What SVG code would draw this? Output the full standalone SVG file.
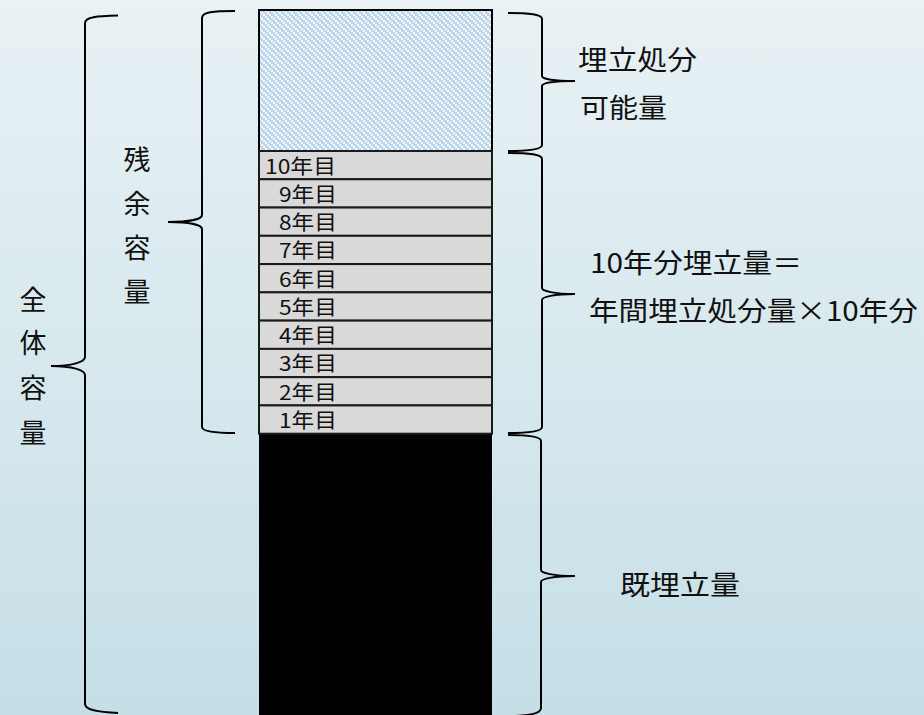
<svg xmlns="http://www.w3.org/2000/svg" width="924" height="715" viewBox="0 0 924 715">
<defs>
<linearGradient id="bg" x1="0" y1="0" x2="0" y2="1">
<stop offset="0" stop-color="#e9f2f5"/>
<stop offset="1" stop-color="#c5dfe6"/>
</linearGradient>
<pattern id="hatch" patternUnits="userSpaceOnUse" x="259" y="10" width="6" height="6">
<rect width="6" height="6" fill="#bdd7ee"/>
<rect x="0" y="0" width="2" height="2" fill="#ffffff"/>
<rect x="2" y="2" width="2" height="2" fill="#ffffff"/>
<rect x="4" y="4" width="2" height="2" fill="#ffffff"/>
</pattern>
<style>
.brace{fill:none;stroke:#000;stroke-width:2}
.row{fill:#d9d9d9;stroke:#1a1a1a;stroke-width:2}
.rt{font-family:"Noto Sans CJK JP","Noto Sans",sans-serif;font-size:20px;fill:#111}
.lbl{font-family:"Noto Sans CJK JP","Noto Sans",sans-serif;font-size:27px;fill:#111}
.v{font-family:"Noto Sans CJK JP","Noto Sans",sans-serif;font-size:27px;fill:#111;text-anchor:middle}
</style>
</defs>
<rect width="924" height="715" fill="url(#bg)"/>

<g id="column">
<rect x="259" y="10" width="233" height="141" fill="url(#hatch)" stroke="#000" stroke-width="2" shape-rendering="crispEdges"/>
<rect x="259" y="433.7" width="233" height="290" fill="#000"/>
</g>

<g id="rows">
<g id="row10"><rect class="row" x="259" y="151" width="233" height="28.27"/><text class="rt" x="265" y="173.5" textLength="71" lengthAdjust="spacingAndGlyphs">10年目</text></g>
<g id="row9"><rect class="row" x="259" y="179.27" width="233" height="28.27"/><text class="rt" x="279" y="201.8" textLength="58" lengthAdjust="spacingAndGlyphs">9年目</text></g>
<g id="row8"><rect class="row" x="259" y="207.54" width="233" height="28.27"/><text class="rt" x="279" y="230" textLength="58" lengthAdjust="spacingAndGlyphs">8年目</text></g>
<g id="row7"><rect class="row" x="259" y="235.81" width="233" height="28.27"/><text class="rt" x="279" y="258.3" textLength="58" lengthAdjust="spacingAndGlyphs">7年目</text></g>
<g id="row6"><rect class="row" x="259" y="264.08" width="233" height="28.27"/><text class="rt" x="279" y="286.6" textLength="58" lengthAdjust="spacingAndGlyphs">6年目</text></g>
<g id="row5"><rect class="row" x="259" y="292.35" width="233" height="28.27"/><text class="rt" x="279" y="314.9" textLength="58" lengthAdjust="spacingAndGlyphs">5年目</text></g>
<g id="row4"><rect class="row" x="259" y="320.62" width="233" height="28.27"/><text class="rt" x="279" y="343.1" textLength="58" lengthAdjust="spacingAndGlyphs">4年目</text></g>
<g id="row3"><rect class="row" x="259" y="348.89" width="233" height="28.27"/><text class="rt" x="279" y="371.4" textLength="58" lengthAdjust="spacingAndGlyphs">3年目</text></g>
<g id="row2"><rect class="row" x="259" y="377.16" width="233" height="28.27"/><text class="rt" x="279" y="399.7" textLength="58" lengthAdjust="spacingAndGlyphs">2年目</text></g>
<g id="row1"><rect class="row" x="259" y="405.43" width="233" height="28.27"/><text class="rt" x="279" y="427.9" textLength="58" lengthAdjust="spacingAndGlyphs">1年目</text></g>
</g>

<g id="connectors">
<path class="brace" d="M118,15.5 C97,16 85,17 85,23 L85,357 C85,362 72,366 51,366 C72,366 85,370 85,375 L85,704 C85,710 97,712 118,713"/>
<path class="brace" d="M235,11 C213,11 202,12 202,18 L202,215 C202,219 190,222 168,222 C190,222 202,225 202,229 L202,427 C202,431 213,433 235,433"/>
<path class="brace" d="M508,13 C530,13 542,14 542,19 L542,76 C542,79 554,81 575,81 C554,81 542,83 542,86 L542,145 C542,149 530,151 508,151"/>
<path class="brace" d="M508,153 C530,153 542,154 542,159 L542,288 C542,291 554,294 575,294 C554,294 542,297 542,300 L542,427 C542,431 530,433 508,433"/>
<path class="brace" d="M508,435 C530,435 541,437 541,441 L541,570 C541,573 553,576 575,576 C553,576 541,579 541,582 L541,708 C541,713 530,716 508,716"/>
</g>

<g id="label-total">
<text class="v" x="33" y="310">全</text>
<text class="v" x="33" y="353">体</text>
<text class="v" x="33" y="398">容</text>
<text class="v" x="33" y="443">量</text>
</g>
<g id="label-remaining">
<text class="v" x="137" y="170">残</text>
<text class="v" x="137" y="214">余</text>
<text class="v" x="137" y="258">容</text>
<text class="v" x="137" y="302">量</text>
</g>
<g id="label-capacity">
<text class="lbl" x="578" y="70" textLength="119" lengthAdjust="spacingAndGlyphs">埋立処分</text>
<text class="lbl" x="580" y="118" textLength="87" lengthAdjust="spacingAndGlyphs">可能量</text>
</g>
<g id="label-10years">
<text class="lbl" x="590" y="273" textLength="212" lengthAdjust="spacingAndGlyphs">10年分埋立量＝</text>
<text class="lbl" x="589" y="321" textLength="329" lengthAdjust="spacingAndGlyphs">年間埋立処分量×10年分</text>
</g>
<g id="label-existing">
<text class="lbl" x="620" y="595" textLength="120" lengthAdjust="spacingAndGlyphs">既埋立量</text>
</g>
</svg>
